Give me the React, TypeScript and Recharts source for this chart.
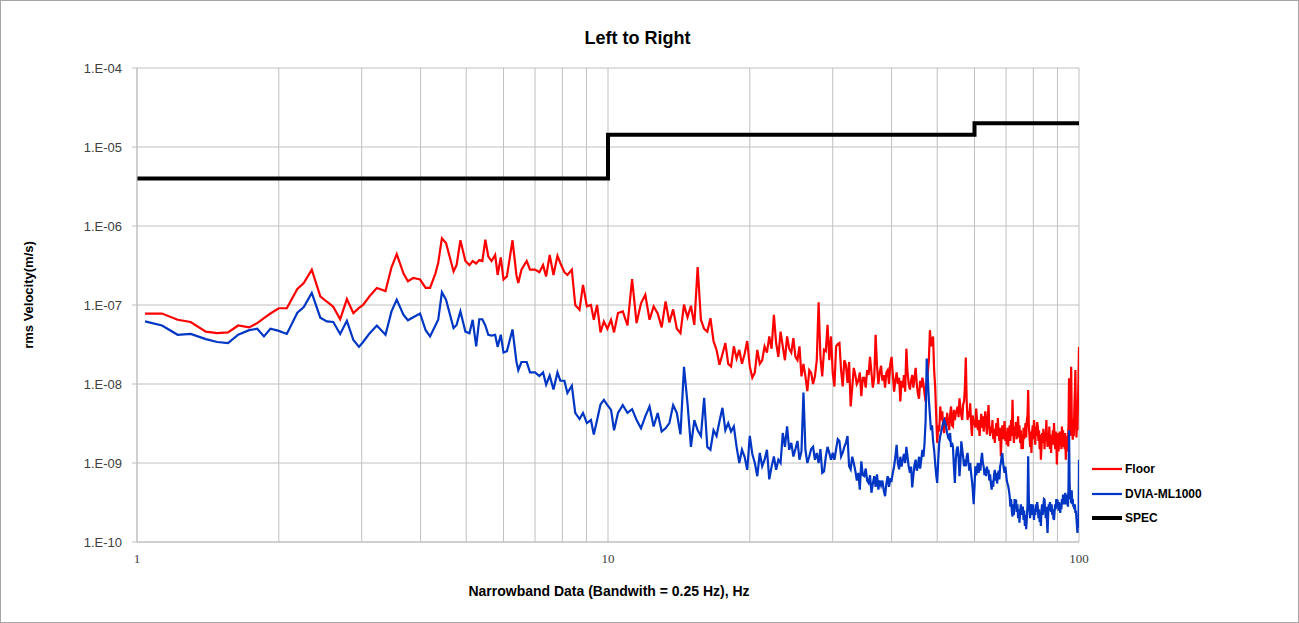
import React from 'react';
import { LineChart, Line, XAxis, YAxis, CartesianGrid } from 'recharts';

// Frequencies (Hz) of the low-frequency part
const LOW_FREQ = [
  1.04, 1.13, 1.22, 1.30, 1.40, 1.48, 1.56, 1.64, 1.73, 1.80,
  1.86, 1.92, 2.00, 2.08, 2.19, 2.26, 2.35, 2.45, 2.53, 2.61,
  2.70, 2.79, 2.88, 2.96, 3.02, 3.12, 3.23, 3.37, 3.47, 3.56,
  3.68, 3.76, 3.86, 3.99, 4.10, 4.19, 4.30, 4.36, 4.44, 4.53,
  4.70, 4.77, 4.86, 4.98, 5.08, 5.16, 5.25, 5.33, 5.41, 5.49,
  5.57, 5.66, 5.76, 5.83, 5.92, 6.00, 6.10, 6.27, 6.39, 6.45,
  6.55, 6.72, 6.83, 7.00, 7.15, 7.28, 7.39, 7.52, 7.66, 7.81,
  7.92, 8.08, 8.20, 8.38, 8.52, 8.70, 8.85, 9.02, 9.20, 9.33,
  9.48, 9.64, 9.80, 9.97, 10.15, 10.30, 10.50,
];

// Floor, rms velocity in nm/s (1e-9 m/s)
const LOW_FLOOR = [
  78, 78, 65, 61, 46, 44, 45, 55, 52, 59,
  68, 78, 91, 91, 160, 190, 280, 129, 110, 95,
  66, 119, 79, 92, 100, 130, 164, 150, 300, 440,
  250, 200, 220, 210, 165, 165, 250, 340, 700, 610,
  266, 320, 660, 360, 320, 360, 335, 370, 360, 670,
  410, 360, 430, 240, 400, 210, 230, 660, 240, 190,
  280, 360, 280, 280, 260, 320, 230, 430, 240, 420,
  340, 260, 240, 280, 100, 87, 180, 96, 100, 65,
  100, 45, 62, 50, 65, 45, 79,
];

// DVIA-ML1000, rms velocity in nm/s
const LOW_DVIA = [
  62, 55, 42, 43, 37, 34, 33, 42, 48, 50,
  40, 50, 47, 43, 80, 94, 142, 69, 62, 61,
  43, 63, 36, 29.5, 34, 44, 55, 42, 83, 117,
  75, 64, 70, 78, 48, 40, 55, 65, 145, 117,
  51, 56, 83, 46, 44, 65, 30, 66, 66, 55,
  42, 41, 42, 29.5, 42, 25, 26, 49, 19.3, 15,
  19, 19, 14, 14, 12.6, 14, 9.8, 12.8, 8.5, 14,
  11, 11, 7.7, 9.5, 4.3, 3.6, 4.3, 3.2, 3.5, 2.3,
  3.5, 5.5, 6.3, 5.4, 4.7, 2.6, 4.3,
];

// Narrowband part: 0.25 Hz bins from 10.75 Hz to 100 Hz (one row per Hz)
const HI_START = 10.75;
const HI_STEP = 0.25;

const HI_FLOOR = [
  83,
  55, 213, 59, 105,
  135, 65, 96, 78,
  52, 111, 60, 88,
  50, 44, 101, 70,
  98, 56, 303, 65,
  50, 46, 68, 35,
  27, 17.5, 24, 33,
  18, 16.7, 30, 21,
  27, 18, 24, 35,
  16.7, 12, 14, 27,
  18, 20, 30, 25,
  40, 28, 75, 33,
  22, 46, 30, 20,
  40, 28, 25, 38,
  22, 20, 30, 12.5,
  18, 12.5, 8.1, 15,
  13.8, 10, 12.5, 20,
  108, 22, 12.5, 27,
  26, 56, 20, 40,
  13.8, 9.3, 30, 32,
  33, 15, 9.3, 20,
  17.5, 10.3, 19, 5.2,
  9, 16, 13, 10,
  11, 14, 7, 12,
  12, 9, 15, 13,
  22, 14, 9, 12,
  42, 17, 10, 14,
  17, 11, 13, 9,
  14, 15, 10, 18,
  22, 13, 8, 11,
  14, 10, 12, 6,
  11, 9, 13, 8,
  28, 14, 10, 8.5,
  11, 13, 9, 12,
  16, 10, 7.5, 6.5,
  11, 9, 12, 10,
  7.5, 6, 11, 14,
  20, 48, 30, 36,
  40, 15, 9.3, 4,
  1.8, 3, 2.5, 5.2,
  3.5, 4.5, 2.8, 2.4,
  3.8, 3, 4.3, 3.2,
  2.6, 4, 5.2, 3,
  2.9, 4.7, 3.5, 4.2,
  4.7, 5.2, 3.8, 6.6,
  5, 4, 3.5, 5.5,
  6, 9, 21.7, 6,
  3.5, 4.5, 3.8, 5.7,
  3.2, 2.2, 4, 3,
  3.5, 2.8, 4.9, 3.5,
  2.6, 3.5, 2.2, 3,
  4.2, 2.8, 3.9, 2.5,
  3.4, 4.5, 3.2, 2.3,
  3.6, 5.4, 3, 2.2,
  2.9, 2.4, 3.5, 2,
  2.7, 1.8, 2.5, 3.2,
  2.2, 3.7, 2.4, 1.9,
  2.8, 1.22, 2.2, 3,
  2, 2.6, 3.4, 1.9,
  2.5, 1.7, 2.8, 1.62,
  2.4, 3, 1.9, 3.5,
  2.2, 6.3, 2.7, 1.8,
  2.9, 2.2, 3.3, 2,
  2.5, 3.9, 2.1, 3,
  1.8, 2.6, 1.5, 2.3,
  1.5, 2.8, 2, 2.6,
  3.2, 2.1, 3.5, 4,
  8.4, 3, 2.2, 1.6,
  2.5, 1.34, 2.4, 3,
  2, 3.5, 2.6, 1.7,
  2.9, 2.2, 3.3, 2.9,
  1.9, 2.6, 1.5, 2.3,
  1.1, 1.6, 2.4, 1.8,
  2.7, 2.2, 1.5, 2.5,
  1.9, 3.5, 2.1, 1.6,
  2.4, 1.8, 2.9, 1.5,
  2.1, 1.34, 2.3, 1.8,
  2.6, 1.7, 3.2, 2,
  1.5, 2.5, 1.9, 0.96,
  1.6, 2.4, 1.4, 1.97,
  2.5, 1.7, 2.2, 1.5,
  2.9, 1.8, 2.6, 1.6,
  2.1, 1.5, 2.4, 1.1,
  1.7, 2.2, 1.4, 2,
  3, 11.8, 3.5, 2.2,
  6, 16.5, 4, 2.5,
  1.97, 2.8, 2.2, 5,
  8, 15, 4, 2.1,
  3, 2.6, 6, 12,
  29.5,
];

const HI_DVIA = [
  5.4,
  4.3, 4.8, 3.5, 2.75,
  3.9, 5.2, 2.9, 4.3,
  2.5, 2.75, 3.2, 5.4,
  4.3, 2.3, 16.5, 5.7,
  1.6, 3.5, 2.6, 2.2,
  6.7, 1.6, 1.47, 2.6,
  2.2, 3.4, 5, 2.6,
  3.2, 2.5, 2.9, 1.6,
  1, 1.47, 1.2, 0.82,
  2.2, 1.3, 1, 0.68,
  1.34, 0.91, 1.1, 1.47,
  0.62, 0.9, 1.21, 0.82,
  1.1, 1, 2.4, 1.6,
  2.9, 1.47, 1.8, 1.21,
  1.5, 1.9, 1.1, 1.4,
  7.8, 1.47, 1.0, 1.21,
  1.5, 1.6, 1.1, 1.34,
  1.0, 1.5, 0.75, 0.78,
  1.2, 1.6, 1.34, 1.1,
  1.35, 1.1, 1.5, 2.0,
  1.9, 1.21, 1.35, 1.6,
  1.8, 2.2, 0.91, 0.83,
  1.2, 1.0, 0.8, 0.6,
  0.75, 0.46, 1.05, 0.7,
  0.68, 0.85, 0.6, 0.56,
  0.7, 0.42, 0.55, 0.68,
  0.5, 0.72, 0.46, 0.6,
  0.52, 0.6, 0.45, 0.38,
  0.55, 0.68, 0.5, 0.62,
  0.6, 0.75, 0.91, 1.2,
  1.7, 1.0, 0.83, 1.2,
  0.9, 1.1, 1.3, 1.0,
  1.6, 1.2, 0.9, 0.75,
  0.9, 0.49, 0.7, 0.95,
  1.1, 0.8, 0.91, 1.2,
  0.85, 1.1, 1.47, 1.2,
  1.8, 3.5, 21, 12,
  6.3, 4, 2.6, 3,
  1.9, 1.47, 1.0, 0.7,
  0.56, 1.1, 1.8, 2.2,
  2.5, 2.9, 3.2, 3.5,
  3.2, 2.8, 2.4, 2.1,
  2.0, 2.4, 1.6, 1.8,
  1.6, 0.91, 0.56, 1.1,
  1.47, 1.62, 1.2, 0.68,
  1.0, 1.88, 1.5, 1.2,
  0.91, 1.1, 0.91, 1.2,
  1.34, 1.0, 0.8, 1.0,
  0.75, 0.6, 0.45, 0.3,
  0.5, 0.91, 0.7, 0.85,
  1.0, 0.75, 1.0, 0.8,
  1.1, 1.34, 1.0, 0.9,
  0.7, 0.85, 0.68, 0.9,
  0.75, 0.82, 0.6, 0.72,
  0.55, 0.46, 0.6, 0.5,
  0.7, 0.82, 0.6, 0.75,
  0.55, 0.68, 0.8, 0.62,
  0.9, 1.0, 1.2, 1.34,
  1.0, 0.85, 0.75, 0.9,
  0.75, 0.6, 0.55, 0.51,
  0.45, 0.38, 0.28, 0.35,
  0.25, 0.21, 0.3, 0.22,
  0.35, 0.28, 0.345, 0.24,
  0.3, 0.2, 0.26, 0.175,
  0.24, 0.3, 0.22, 0.26,
  0.28, 0.19, 0.25, 0.16,
  0.22, 0.145, 0.2, 0.3,
  1.22, 0.35, 0.25, 0.2,
  0.3, 0.28, 0.22, 0.3,
  0.25, 0.19, 0.26, 0.22,
  0.3, 0.24, 0.32, 0.28,
  0.2, 0.26, 0.18, 0.22,
  0.16, 0.25, 0.3, 0.22,
  0.28, 0.35, 0.345, 0.25,
  0.2, 0.28, 0.18, 0.13,
  0.22, 0.3, 0.25, 0.32,
  0.28, 0.24, 0.3, 0.22,
  0.26, 0.2, 0.19, 0.24,
  0.3, 0.26, 0.35, 0.28,
  0.345, 0.3, 0.25, 0.32,
  0.28, 0.234, 0.3, 0.26,
  0.35, 0.3, 0.4, 0.32,
  0.38, 0.3, 0.42, 0.35,
  0.3, 0.4, 0.33, 0.28,
  0.5, 2.6, 0.6, 0.35,
  0.4, 0.31, 0.45, 0.3,
  0.35, 0.28, 0.3, 0.26,
  0.3, 0.234, 0.25, 0.2,
  0.16, 0.13, 0.18, 0.15,
  1.1,
];

// SPEC step line (m/s)
const SPEC_FREQ = [1, 10, 10, 60, 60, 100];
const SPEC_VALUES = [4e-6, 4e-6, 1.43e-5, 1.43e-5, 2e-5, 2e-5];

// Axis ticks
const X_TICKS = [1, 2, 3, 4, 5, 6, 7, 8, 9, 10, 20, 30, 40, 50, 60, 70, 80, 90, 100];
const X_TICK_LABELS: Record<number, string> = { 1: '1', 10: '10', 100: '100' };
const Y_TICKS = [1e-10, 1e-9, 1e-8, 1e-7, 1e-6, 1e-5, 1e-4];
const Y_TICK_LABELS = ['1.E-10', '1.E-09', '1.E-08', '1.E-07', '1.E-06', '1.E-05', '1.E-04'];

const NM = 1e-9;
const HI_FREQ = HI_FLOOR.map((_, i) => HI_START + HI_STEP * i);

const mainData = [
  ...LOW_FREQ.map((f, i) => ({ f, floor: LOW_FLOOR[i] * NM, dvia: LOW_DVIA[i] * NM })),
  ...HI_FREQ.map((f, i) => ({ f, floor: HI_FLOOR[i] * NM, dvia: HI_DVIA[i] * NM })),
];
const specData = SPEC_FREQ.map((f, i) => ({ f, spec: SPEC_VALUES[i] }));

const W = 1299;
const H = 623;
const GRID = '#c0c0c0';
const RED = '#ff0000';
const BLUE = '#0036c4';
const BOLD = "'Liberation Sans', Arial, sans-serif";

const legendItems = [
  { name: 'Floor', color: RED, width: 2.2, y: 469 },
  { name: 'DVIA-ML1000', color: BLUE, width: 2.2, y: 494 },
  { name: 'SPEC', color: '#000000', width: 4, y: 518 },
];

export default function App() {
  return (
    <div style={{ position: 'absolute', left: 0, top: 0, width: W, height: H, background: '#fff' }}>
      <LineChart
        width={W}
        height={H}
        data={mainData}
        margin={{ top: 68, right: 220, bottom: 51, left: 77 }}
        style={{ fontFamily: BOLD }}
      >
        <CartesianGrid stroke={GRID} strokeWidth={1} />
        <XAxis
          dataKey="f"
          type="number"
          scale="log"
          domain={[1, 100]}
          ticks={X_TICKS}
          interval={0}
          allowDataOverflow
          height={30}
          tickLine={false}
          tickSize={5}
          tickMargin={7}
          axisLine={{ stroke: GRID }}
          tickFormatter={(v: number) => X_TICK_LABELS[v] ?? ''}
          tick={{ fill: '#404040', fontSize: 13, fontFamily: "'Liberation Serif', 'DejaVu Serif', serif" }}
        />
        <YAxis
          type="number"
          scale="log"
          domain={[1e-10, 1e-4]}
          ticks={Y_TICKS}
          interval={0}
          allowDataOverflow
          width={60}
          tickSize={5}
          tickMargin={10}
          tickLine={{ stroke: GRID }}
          axisLine={{ stroke: GRID }}
          tickFormatter={(v: number) => {
            const idx = Y_TICKS.findIndex((t) => Math.abs(Math.log10(t) - Math.log10(v)) < 1e-6);
            return idx >= 0 ? Y_TICK_LABELS[idx] : '';
          }}
          tick={{ fill: '#404040', fontSize: 13, fontFamily: "'Liberation Sans', Arial, sans-serif" }}
        />
        <Line
          type="linear"
          dataKey="floor"
          stroke={RED}
          strokeWidth={2.2}
          dot={false}
          isAnimationActive={false}
        />
        <Line
          type="linear"
          dataKey="dvia"
          stroke={BLUE}
          strokeWidth={2.2}
          dot={false}
          isAnimationActive={false}
        />
        <Line
          type="linear"
          data={specData}
          dataKey="spec"
          stroke="#000000"
          strokeWidth={4}
          strokeLinejoin="miter"
          strokeLinecap="square"
          dot={false}
          isAnimationActive={false}
        />
      </LineChart>

      {/* Title */}
      <div
        style={{
          position: 'absolute', left: 0, width: 1275, top: 27, textAlign: 'center',
          fontFamily: BOLD, fontWeight: 'bold', fontSize: 18, color: '#000', lineHeight: '22px',
        }}
      >
        Left to Right
      </div>

      {/* X axis title */}
      <div
        style={{
          position: 'absolute', left: 0, width: 1218, top: 582, textAlign: 'center',
          fontFamily: BOLD, fontWeight: 'bold', fontSize: 14, color: '#000', lineHeight: '18px',
        }}
      >
        Narrowband Data (Bandwith = 0.25 Hz), Hz
      </div>

      {/* Y axis title */}
      <div
        style={{
          position: 'absolute', left: 29 - 100, top: 295 - 9, width: 200, height: 18,
          transform: 'rotate(-90deg)', textAlign: 'center',
          fontFamily: BOLD, fontWeight: 'bold', fontSize: 13, color: '#000', lineHeight: '18px',
        }}
      >
        rms Velocity(m/s)
      </div>

      {/* Legend */}
      {legendItems.map((it) => (
        <div
          key={it.name}
          style={{ position: 'absolute', left: 1091, top: it.y - 9, height: 18, display: 'flex', alignItems: 'center' }}
        >
          <svg width={32} height={18} style={{ display: 'block' }}>
            <line x1={1} y1={9} x2={31} y2={9} stroke={it.color} strokeWidth={it.width} />
          </svg>
          <span
            style={{
              marginLeft: 2, fontFamily: BOLD, fontWeight: 'bold', fontSize: 12, color: '#000', whiteSpace: 'nowrap',
            }}
          >
            {it.name}
          </span>
        </div>
      ))}

      {/* Outer border */}
      <div
        style={{
          position: 'absolute', left: 0, top: 0, width: W, height: H, boxSizing: 'border-box',
          border: '1px solid #a6a6a6', pointerEvents: 'none',
        }}
      />
    </div>
  );
}
